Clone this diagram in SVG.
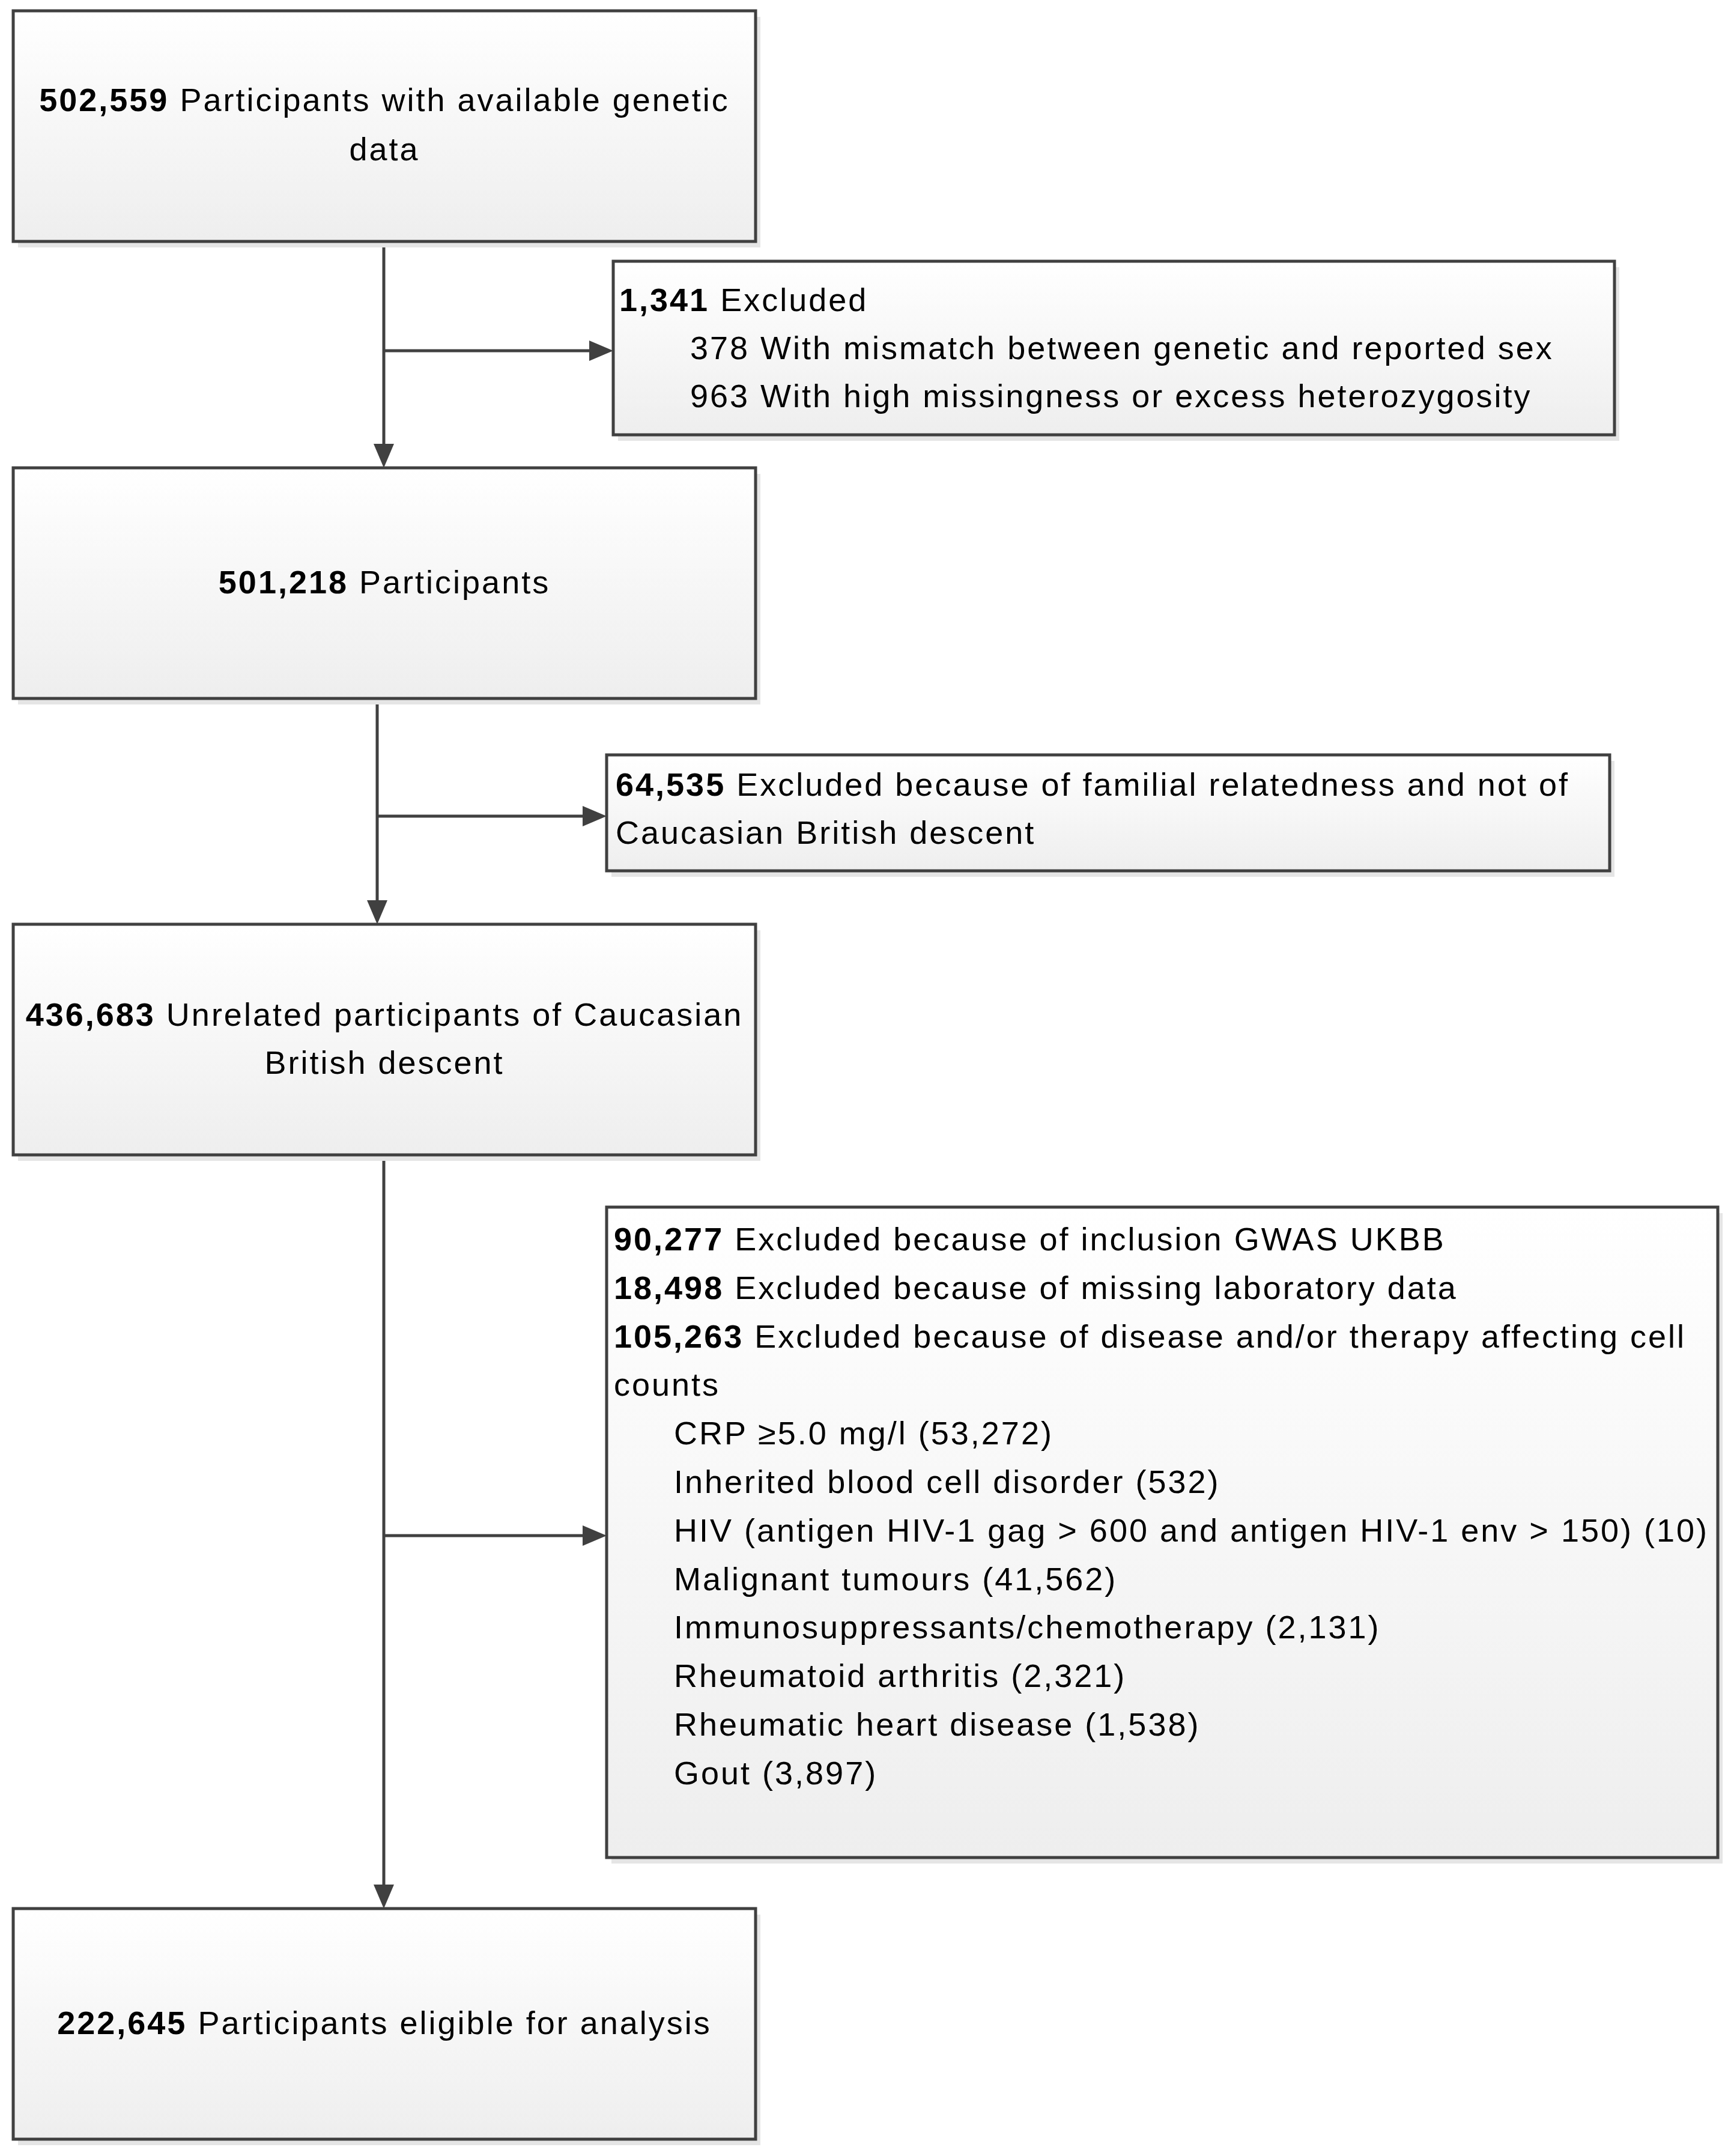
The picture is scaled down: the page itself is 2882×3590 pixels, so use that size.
<svg xmlns="http://www.w3.org/2000/svg" width="2882" height="3590" viewBox="0 0 2882 3590">
<defs>
<linearGradient id="g" x1="0" y1="0" x2="0" y2="1"><stop offset="0" stop-color="#ffffff"/><stop offset="1" stop-color="#eeeeee"/></linearGradient>
<marker id="ah" markerUnits="userSpaceOnUse" markerWidth="40" markerHeight="34" refX="20" refY="17" orient="auto"><path d="M0,0 L40,17 L0,34 z" fill="#404040"/></marker>
</defs>
<style>
.box{fill:url(#g);stroke:#404040;stroke-width:5}
.sh{fill:#e5e5e5}
.t{font-family:"Liberation Sans",Arial,sans-serif;font-size:54px;letter-spacing:3px;fill:#000}
.c{text-anchor:middle}
.b{font-weight:bold}
.ln{stroke:#404040;stroke-width:5;fill:none}
</style>
<rect width="2882" height="3590" fill="#ffffff"/>
<g id="connectors">
<path class="ln" d="M639,402 V759" marker-end="url(#ah)"/>
<path class="ln" d="M639,584 H1001" marker-end="url(#ah)"/>
<path class="ln" d="M628,1163 V1519" marker-end="url(#ah)"/>
<path class="ln" d="M628,1359 H990" marker-end="url(#ah)"/>
<path class="ln" d="M639,1923 V3158" marker-end="url(#ah)"/>
<path class="ln" d="M639,2557 H990" marker-end="url(#ah)"/>
</g>
<g id="n1">
<rect class="sh" x="30" y="28" width="1236" height="384"/>
<rect class="box" x="22" y="18" width="1236" height="384"/>
<text class="t c" x="640" y="185"><tspan class="b">502,559</tspan> Participants with available genetic</text>
<text class="t c" x="640" y="267">data</text>
</g>
<g id="e1">
<rect class="sh" x="1029" y="445" width="1667" height="289"/>
<rect class="box" x="1021" y="435" width="1667" height="289"/>
<text class="t" x="1031" y="518"><tspan class="b">1,341</tspan> Excluded</text>
<text class="t" x="1149" y="598" letter-spacing="3.8">378 With mismatch between genetic and reported sex</text>
<text class="t" x="1149" y="678" letter-spacing="3.5">963 With high missingness or excess  heterozygosity</text>
</g>
<g id="n2">
<rect class="sh" x="30" y="789" width="1236" height="384"/>
<rect class="box" x="22" y="779" width="1236" height="384"/>
<text class="t c" x="640" y="988"><tspan class="b">501,218</tspan> Participants</text>
</g>
<g id="e2">
<rect class="sh" x="1018" y="1267" width="1670" height="193"/>
<rect class="box" x="1010" y="1257" width="1670" height="193"/>
<text class="t" x="1025" y="1325"><tspan class="b">64,535</tspan> Excluded because of familial relatedness and not of</text>
<text class="t" x="1025" y="1405">Caucasian British descent</text>
</g>
<g id="n3">
<rect class="sh" x="30" y="1549" width="1236" height="384"/>
<rect class="box" x="22" y="1539" width="1236" height="384"/>
<text class="t c" x="640" y="1708"><tspan class="b">436,683</tspan> Unrelated participants of Caucasian</text>
<text class="t c" x="640" y="1788">British descent</text>
</g>
<g id="e3">
<rect class="sh" x="1018" y="2020" width="1850" height="1083"/>
<rect class="box" x="1010" y="2010" width="1850" height="1083"/>
<text class="t" x="1022" y="2082"><tspan class="b">90,277</tspan> Excluded because of inclusion GWAS UKBB</text>
<text class="t" x="1022" y="2163"><tspan class="b">18,498</tspan> Excluded because of missing laboratory data</text>
<text class="t" x="1022" y="2244"><tspan class="b">105,263</tspan> Excluded because of disease and/or therapy affecting cell</text>
<text class="t" x="1022" y="2324">counts</text>
<text class="t" x="1122" y="2405">CRP ≥5.0 mg/l (53,272)</text>
<text class="t" x="1122" y="2486">Inherited blood cell disorder (532)</text>
<text class="t" x="1122" y="2567" letter-spacing="2.8">HIV (antigen HIV-1 gag &gt; 600 and antigen HIV-1 env &gt; 150) (10)</text>
<text class="t" x="1122" y="2648">Malignant tumours (41,562)</text>
<text class="t" x="1122" y="2728">Immunosuppressants/chemotherapy (2,131)</text>
<text class="t" x="1122" y="2809">Rheumatoid arthritis (2,321)</text>
<text class="t" x="1122" y="2890">Rheumatic heart disease (1,538)</text>
<text class="t" x="1122" y="2971">Gout (3,897)</text>
</g>
<g id="n4">
<rect class="sh" x="30" y="3188" width="1236" height="384"/>
<rect class="box" x="22" y="3178" width="1236" height="384"/>
<text class="t c" x="640" y="3387"><tspan class="b">222,645</tspan> Participants eligible for analysis</text>
</g>
</svg>
